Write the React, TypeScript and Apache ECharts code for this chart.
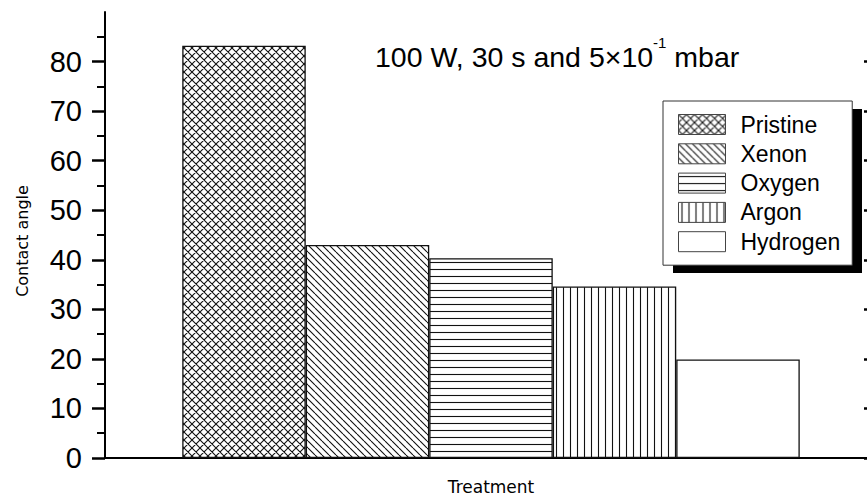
import React, { useEffect, useRef } from "react";
import * as echarts from "echarts";

const categories = ["Treatment"];
const seriesNames = ["Pristine", "Xenon", "Oxygen", "Argon", "Hydrogen"];
const contactAngles = [83.2, 43.0, 40.3, 34.6, 19.9];
const patternKinds = ["cross", "back", "hline", "vline", "none"];
const yTicks = [0, 10, 20, 30, 40, 50, 60, 70, 80];

function makePattern(kind: string, size: number) {
  if (kind === "none") return "#ffffff";
  const c = document.createElement("canvas");
  c.width = size;
  c.height = size;
  const g = c.getContext("2d") as CanvasRenderingContext2D;
  g.fillStyle = "#ffffff";
  g.fillRect(0, 0, size, size);
  g.strokeStyle = "#111111";
  g.lineWidth = 1.1;
  g.beginPath();
  if (kind === "cross" || kind === "back") {
    for (const k of [-1, 0, 1]) {
      g.moveTo(k * size, 0);
      g.lineTo(k * size + size, size);
      if (kind === "cross") {
        g.moveTo(k * size + size, 0);
        g.lineTo(k * size, size);
      }
    }
  } else if (kind === "hline") {
    g.moveTo(0, size / 2);
    g.lineTo(size, size / 2);
  } else if (kind === "vline") {
    g.moveTo(size / 2, 0);
    g.lineTo(size / 2, size);
  }
  g.stroke();
  return {
    image: c.toDataURL(),
    repeat: "repeat",
    imageWidth: size,
    imageHeight: size,
  } as any;
}

const patternSizes: Record<string, number> = { cross: 8, back: 7, hline: 7, vline: 7, none: 7 };

export default function App() {
  const ref = useRef<HTMLDivElement>(null);
  useEffect(() => {
    document.body.style.margin = "0";
    if (!ref.current) return;
    const chart = echarts.init(ref.current, undefined, { renderer: "svg" });
    const arial = "Liberation Sans, Arial, sans-serif";
    const dejavu = "DejaVu Sans, sans-serif";
    const series = seriesNames.map((name, i) => ({
      name,
      type: "bar",
      data: [contactAngles[i]],
      barWidth: 123.5,
      barGap: "0%",
      silent: true,
      itemStyle: {
        color: makePattern(patternKinds[i], patternSizes[patternKinds[i]]),
        borderColor: "#111",
        borderWidth: 1.3,
      },
    }));
    chart.setOption({
      animation: false,
      backgroundColor: "#ffffff",
      title: {
        text: "{a|100 W, 30 s and 5×10}{s|-1}{a| mbar}",
        left: 375,
        top: 35,
        padding: 0,
        textStyle: {
          fontWeight: "normal",
          rich: {
            a: {
              fontFamily: arial,
              fontSize: 28.5,
              fontWeight: "normal",
              color: "#000",
              verticalAlign: "bottom",
              padding: [7, 0, 0, 0],
            },
            s: {
              fontFamily: arial,
              fontSize: 15,
              fontWeight: "normal",
              color: "#000",
              verticalAlign: "top",
            },
          },
        },
      },
      grid: {
        left: 105,
        width: 772,
        top: 12,
        bottom: 42,
        containLabel: false,
        outerBoundsMode: "none",
      },
      legend: {
        orient: "vertical",
        left: 663,
        top: 101,
        data: seriesNames,
        icon: "rect",
        itemWidth: 47,
        itemHeight: 20,
        itemGap: 6.3,
        padding: [12, 12, 12, 15],
        backgroundColor: "#ffffff",
        borderColor: "#333",
        borderWidth: 1,
        borderRadius: 0,
        selectedMode: false,
        itemStyle: { borderColor: "#444", borderWidth: 1 },
        textStyle: {
          fontFamily: arial,
          fontSize: 23,
          color: "#000",
          padding: [0, 0, 0, 10],
        },
      },
      graphic: [
        {
          type: "rect",
          z: 1,
          shape: { x: 673, y: 109, width: 189, height: 164 },
          style: { fill: "#000" },
          silent: true,
        },
      ],
      xAxis: [
        {
          type: "category",
          data: categories,
          position: "bottom",
          axisLine: { show: true, lineStyle: { color: "#000", width: 2 } },
          axisTick: { show: false },
          axisLabel: { show: false },
          splitLine: { show: false },
          name: "Treatment",
          nameLocation: "middle",
          nameGap: 20,
          nameTextStyle: { fontFamily: dejavu, fontSize: 17, color: "#000" },
        },
        {
          type: "category",
          data: categories,
          position: "top",
          axisLine: { show: true, lineStyle: { color: "#000", width: 2 } },
          axisTick: { show: false },
          axisLabel: { show: false },
          splitLine: { show: false },
        },
      ],
      yAxis: [
        {
          type: "value",
          min: 0,
          max: 90,
          interval: 10,
          position: "left",
          axisLine: { show: true, lineStyle: { color: "#000", width: 2 } },
          axisTick: {
            show: true,
            inside: false,
            length: 13,
            customValues: yTicks,
            lineStyle: { color: "#000", width: 2.5 },
          },
          minorTick: {
            show: true,
            splitNumber: 2,
            length: 8,
            lineStyle: { color: "#000", width: 2 },
          },
          axisLabel: {
            customValues: yTicks,
            formatter: (v: number) => (v >= 90 ? "" : String(v)),
            fontFamily: arial,
            fontSize: 29,
            color: "#000",
            margin: 23,
          },
          splitLine: { show: false },
          name: "Contact angle",
          nameLocation: "middle",
          nameGap: 75,
          nameRotate: 90,
          nameTextStyle: {
            fontFamily: dejavu,
            fontSize: 16,
            color: "#000",
            padding: [0, 12, 0, 0],
          },
        },
        {
          type: "value",
          min: 0,
          max: 90,
          interval: 10,
          position: "right",
          axisLine: { show: true, lineStyle: { color: "#000", width: 2 } },
          axisTick: {
            show: true,
            inside: true,
            length: 13,
            customValues: yTicks,
            lineStyle: { color: "#000", width: 2.5 },
          },
          axisLabel: { show: false },
          splitLine: { show: false },
        },
      ],
      series,
    });
    return () => chart.dispose();
  }, []);
  return (
    <div
      ref={ref}
      style={{ width: 867, height: 500, position: "absolute", left: 0, top: 0 }}
    />
  );
}
